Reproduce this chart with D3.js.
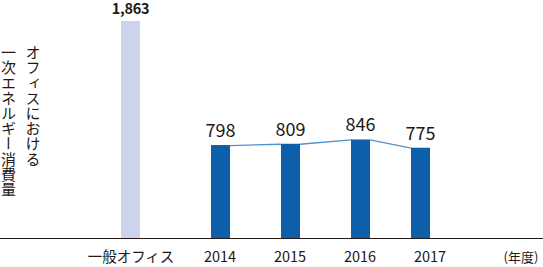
<!DOCTYPE html>
<html>
<head>
<meta charset="utf-8">
<script src="https://cdn.jsdelivr.net/npm/d3@7"></script>
<style>
  body { margin: 0; background: #fff; }
  svg text { font-family: "Noto Sans CJK JP", "Noto Sans", sans-serif; fill: #231815; }
</style>
</head>
<body>
<svg id="chart"></svg>
<script>
// data
var categories = ["一般オフィス", "2014", "2015", "2016", "2017"];
var values = [1863, 798, 809, 846, 775];
var valueLabels = ["1,863", "798", "809", "846", "775"];
var yTitle = ["オフィスにおける", "一次エネルギー消費量"];
var unitLabel = "(年度)";

const width = 543, height = 267;
const baseY = 238;
const barW = 19;

const svg = d3.select("#chart")
    .attr("width", width)
    .attr("height", height);

// bar centres are not evenly spaced in the original
const x = d3.scaleOrdinal()
    .domain(categories)
    .range([130.5, 220.5, 290.5, 360.5, 420.5]);
const xTick = d3.scaleOrdinal()
    .domain(categories)
    .range([131, 220, 290, 360, 430]);

const y = d3.scaleLinear()
    .domain([0, 1863])
    .range([baseY, 21]);

var rows = categories.map((c, i) => ({ cat: c, v: values[i], label: valueLabels[i], i: i }));

// bars
svg.append("g")
    .selectAll("rect")
    .data(rows)
    .join("rect")
    .attr("x", d => x(d.cat) - barW / 2)
    .attr("y", d => y(d.v))
    .attr("width", barW)
    .attr("height", d => baseY - y(d.v))
    .attr("fill", d => d.i === 0 ? "#cdd3ea" : "#0c5fa8");

// connecting line between the yearly bars (top right corner -> next top left corner)
var yearly = rows.slice(1);
var segs = [];
for (var k = 0; k < yearly.length - 1; k++) {
    segs.push([yearly[k], yearly[k + 1]]);
}
svg.append("g")
    .selectAll("line")
    .data(segs)
    .join("line")
    .attr("x1", d => x(d[0].cat) + barW / 2)
    .attr("y1", d => y(d[0].v) + 0.5)
    .attr("x2", d => x(d[1].cat) - barW / 2)
    .attr("y2", d => y(d[1].v) + 0.5)
    .attr("stroke", "#4d92cf")
    .attr("stroke-width", 1.3);

// baseline
svg.append("line")
    .attr("x1", 0).attr("x2", width)
    .attr("y1", baseY + 0.5).attr("y2", baseY + 0.5)
    .attr("stroke", "#231815")
    .attr("stroke-width", 1);

// value labels
svg.append("g")
    .selectAll("text")
    .data(rows)
    .join("text")
    .attr("x", d => x(d.cat))
    .attr("y", d => y(d.v) - (d.i === 0 ? 7 : 8))
    .attr("text-anchor", "middle")
    .style("font-size", d => d.i === 0 ? "14.5px" : "18px")
    .style("font-weight", d => d.i === 0 ? "bold" : "normal")
    .style("letter-spacing", d => d.i === 0 ? "-0.3px" : "0px")
    .text(d => d.label);

// category labels
svg.append("g")
    .selectAll("text")
    .data(categories)
    .join("text")
    .attr("x", d => xTick(d))
    .attr("y", 262)
    .attr("text-anchor", "middle")
    .style("font-size", "14.5px")
    .text(d => d);

svg.append("text")
    .attr("x", 521)
    .attr("y", 262)
    .attr("text-anchor", "middle")
    .style("font-size", "13px")
    .text(unitLabel);

// vertical axis title, two columns
svg.append("g")
    .selectAll("text")
    .data(yTitle)
    .join("text")
    .attr("x", (d, i) => i === 0 ? 33 : 8.5)
    .attr("y", 45)
    .style("writing-mode", "vertical-rl")
    .style("font-size", "15px")
    .style("letter-spacing", "0.2px")
    .text(d => d);
</script>
</body>
</html>
